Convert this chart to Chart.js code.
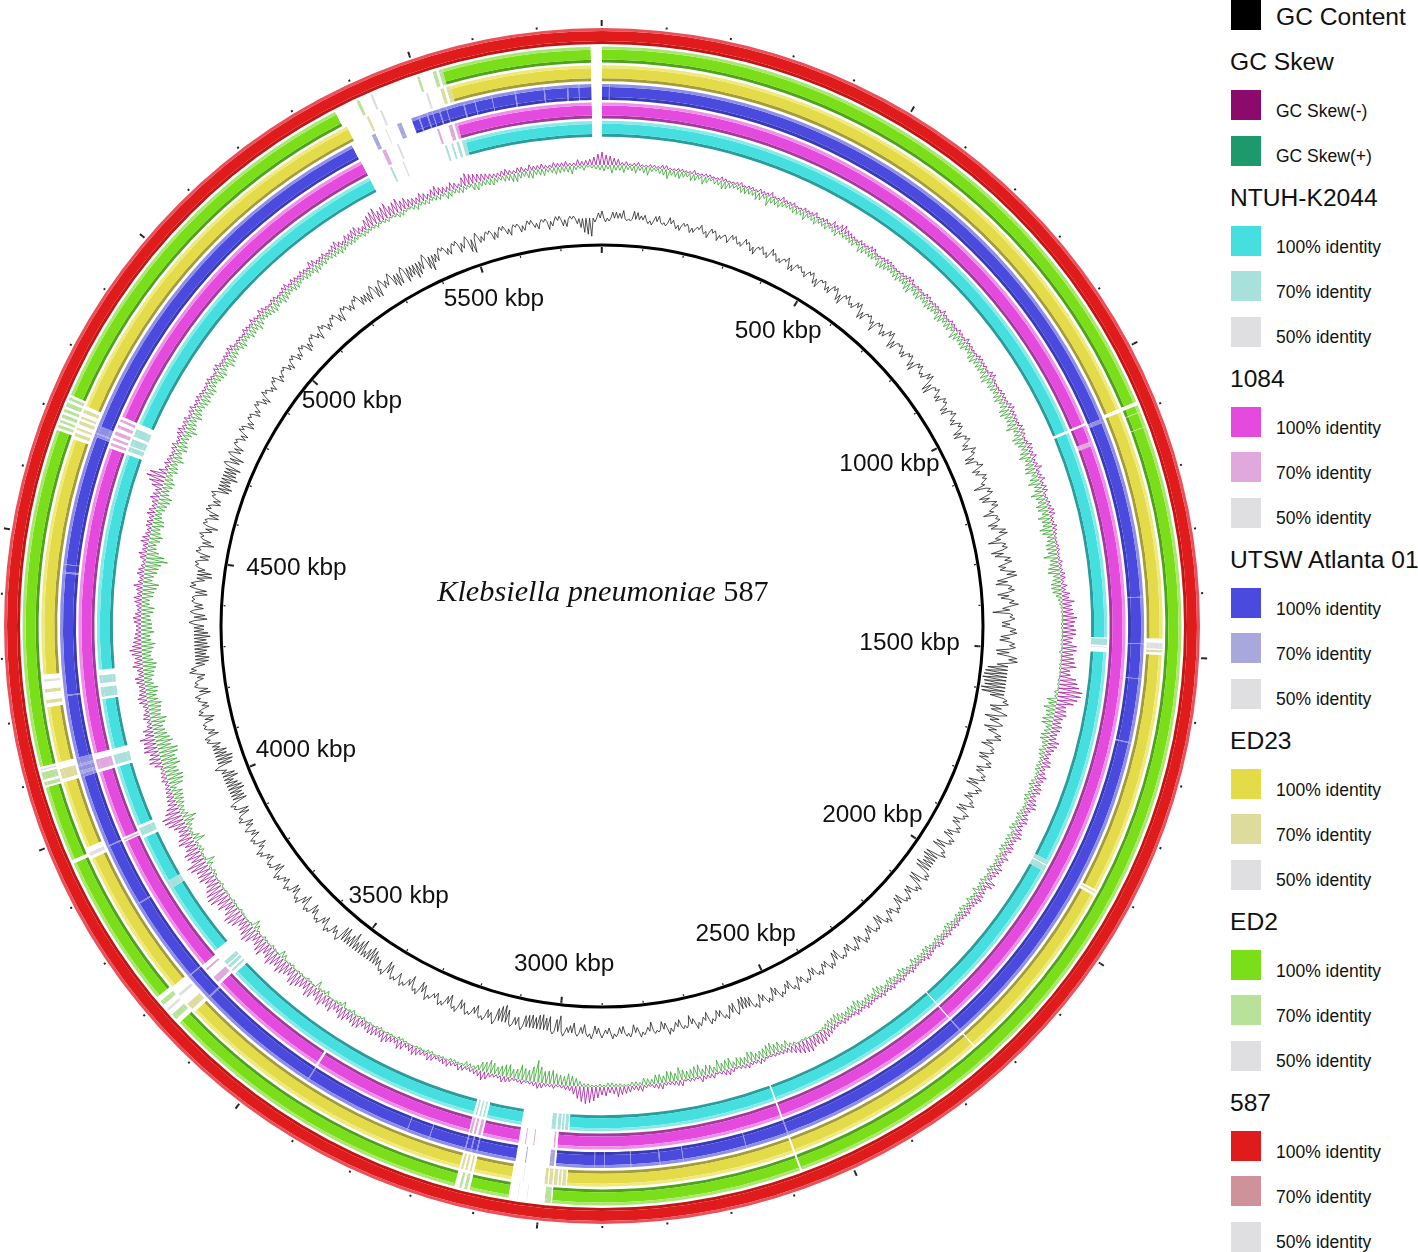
<!DOCTYPE html>
<html>
<head>
<meta charset="utf-8">
<title>Klebsiella pneumoniae 587</title>
<script src="https://cdn.jsdelivr.net/npm/chart.js@4"></script>
<style>
    html, body { margin: 0; padding: 0; background: #fff; overflow: hidden; }
    body { width: 1418px; height: 1252px; position: relative; font-family: "Liberation Sans", Arial, sans-serif; color: #111; }
    canvas { position: absolute; left: -18px; top: 6px; }
    #title { position: absolute; left: 303px; top: 574px; width: 600px; text-align: center; font: 30.3px "Liberation Serif", serif; white-space: nowrap; }
    .swatch { position: absolute; left: 1231px; width: 30px; height: 30px; }
    .heading { position: absolute; left: 1230px; font-size: 24.6px; line-height: 30px; white-space: nowrap; }
    .item { position: absolute; left: 1276px; font-size: 17.5px; line-height: 22px; white-space: nowrap; }
</style>
</head>
<body>
<canvas id="rings" width="1240" height="1240"></canvas>
<canvas id="traces" width="1240" height="1240"></canvas>
<div id="title"><i>Klebsiella pneumoniae</i> 587</div>
<div id="legend"></div>

<script>
const genomeLength = 5800;

// tick marks and labels in kbp
const majorTicks = [0, 500, 1000, 1500, 2000, 2500, 3000, 3500, 4000, 4500, 5000, 5500];
const minorTicks = [100, 200, 300, 400, 600, 700, 800, 900, 1100, 1200, 1300, 1400, 1600, 1700, 1800, 1900, 2100, 2200, 2300, 2400, 2600, 2700, 2800, 2900, 3100, 3200, 3300, 3400, 3600, 3700, 3800, 3900, 4100, 4200, 4300, 4400, 4600, 4700, 4800, 4900, 5100, 5200, 5300, 5400, 5600, 5700];
const labelTicks = [500, 1000, 1500, 2000, 2500, 3000, 3500, 4000, 4500, 5000, 5500];

// legend names
const genomeNames = ['NTUH-K2044', '1084', 'UTSW Atlanta 01', 'ED23', 'ED2', '587'];
const identityNames = ['100% identity', '70% identity', '50% identity'];

// regions that differ from full identity: start kbp, end kbp, identity (0 = no match)
const spans587 = [];
const spansEd2 = [[5782, 5800, 0], [5358, 5542, 0], [5396, 5401, 70], [5420, 5424, 50], [5500, 5504, 70], [5526, 5532, 70], [5536, 5542, 70], [1083, 1089, 0], [1100, 1101, 70], [1125, 1126, 70], [2575, 2578, 0], [2980, 3050, 0], [2982, 2992, 70], [3020, 3021, 50], [3035, 3036, 50], [3113, 3138, 0], [3117, 3122, 70], [3126, 3130, 70], [3654, 3708, 0], [3662, 3672, 70], [3680, 3684, 50], [3692, 3700, 70], [3960, 3966, 0], [4089, 4123, 0], [4092, 4098, 70], [4102, 4114, 70], [4117, 4120, 50], [4669, 4729, 0], [4673, 4678, 70], [4682, 4686, 70], [4690, 4696, 70], [4700, 4705, 70], [4709, 4716, 70], [4720, 4725, 70]];
const spansEd23 = [[5782, 5800, 0], [5364, 5547, 0], [5400, 5404, 70], [5424, 5428, 50], [5505, 5509, 50], [5530, 5536, 70], [5540, 5547, 70], [1083, 1089, 0], [1471, 1498, 0], [1478, 1488, 50], [1490, 1494, 70], [1903, 1913, 0], [1906, 1909, 70], [2230, 2232, 0], [2575, 2578, 0], [2958, 3050, 0], [2960, 2995, 70], [2966, 2968, 0], [2972, 2974, 0], [2980, 2982, 0], [2988, 2990, 0], [3030, 3031, 50], [3113, 3138, 0], [3117, 3120, 70], [3124, 3128, 70], [3131, 3135, 70], [3650, 3705, 0], [3656, 3668, 70], [3685, 3690, 50], [3955, 3975, 0], [3960, 3966, 50], [4089, 4123, 0], [4095, 4112, 70], [4216, 4270, 0], [4222, 4228, 70], [4240, 4246, 70], [4258, 4262, 50], [4664, 4722, 0], [4669, 4675, 70], [4680, 4684, 70], [4690, 4696, 70], [4700, 4704, 70], [4710, 4716, 70]];
const spansUtsw = [[5782, 5800, 0], [5357, 5468, 0], [5395, 5402, 70], [5420, 5422, 50], [5442, 5450, 70], [5480, 5482, 90], [5495, 5497, 90], [5505, 5506, 90], [5517, 5519, 90], [5530, 5531, 90], [5560, 5562, 90], [5580, 5581, 90], [5610, 5611, 90], [5650, 5652, 90], [5700, 5702, 90], [5740, 5742, 90], [5760, 5761, 90], [12, 13, 90], [1087, 1094, 90], [1400, 1401, 90], [1480, 1481, 90], [1540, 1541, 90], [1650, 1652, 90], [2230, 2232, 90], [2575, 2577, 90], [2650, 2651, 90], [2760, 2761, 90], [2800, 2802, 90], [2850, 2851, 90], [2895, 2896, 90], [2912, 2913, 90], [2979, 3048, 0], [2982, 2990, 70], [3030, 3032, 70], [3115, 3117, 90], [3125, 3127, 90], [3135, 3137, 90], [3200, 3201, 90], [3240, 3241, 90], [3430, 3432, 90], [3650, 3653, 90], [3700, 3702, 90], [3851, 3853, 90], [3962, 3964, 90], [4089, 4123, 90], [4095, 4100, 70], [4108, 4112, 70], [4230, 4232, 90], [4440, 4443, 90], [4455, 4456, 90], [4680, 4700, 90], [4685, 4687, 70]];
const spans1084 = [[5782, 5800, 0], [5358, 5541, 0], [5400, 5407, 70], [5428, 5432, 50], [5504, 5508, 70], [5525, 5532, 70], [5536, 5541, 70], [1083, 1087, 0], [1117, 1125, 70], [2230, 2232, 0], [2575, 2578, 0], [2979, 3048, 0], [2983, 2986, 70], [3020, 3022, 70], [3035, 3037, 70], [3113, 3138, 0], [3116, 3121, 70], [3125, 3129, 70], [3132, 3136, 70], [3430, 3434, 0], [3655, 3700, 0], [3660, 3672, 70], [3688, 3692, 70], [3958, 3966, 0], [3960, 3963, 70], [4089, 4123, 0], [4094, 4112, 70], [4670, 4730, 0], [4675, 4680, 70], [4685, 4690, 70], [4695, 4702, 70], [4708, 4714, 70], [4720, 4725, 70]];
const spansNtuh = [[5782, 5800, 0], [5358, 5547, 0], [5400, 5404, 70], [5425, 5428, 50], [5508, 5512, 70], [5520, 5524, 70], [5530, 5535, 70], [5540, 5547, 70], [1083, 1088, 0], [1471, 1498, 0], [1473, 1485, 70], [1488, 1490, 50], [1897, 1918, 70], [1905, 1907, 0], [2230, 2232, 0], [2575, 2578, 0], [2960, 3048, 0], [2962, 2993, 70], [2968, 2970, 0], [2974, 2976, 0], [2982, 2985, 0], [3113, 3138, 0], [3117, 3120, 70], [3124, 3127, 70], [3131, 3134, 70], [3650, 3705, 0], [3656, 3680, 70], [3660, 3664, 0], [3670, 3672, 0], [3845, 3860, 70], [3950, 3975, 0], [3955, 3970, 70], [4089, 4123, 0], [4094, 4112, 70], [4216, 4270, 0], [4220, 4238, 70], [4245, 4260, 70], [4670, 4730, 0], [4676, 4700, 70], [4685, 4687, 0], [4705, 4720, 70]];

// one value per half degree (A on the degree, B half way).
// gcContent: out (+) / in (-) of its base line
const gcContentA = [
    7, -3, 6, 8, -2, 7, 5, -4, 6, -3, 4, -5, 3, -4, 5, -6, 3, -3, -5, 4, -4, 3, -7, 4, -5, 3, -4, 5, -6, 3,
    -5, 4, -8, 3, -6, 4, -9, 5, -4, 6, -7, 3, -10, 4, -5, 6, -8, 3, -6, 4, -9, 5, -4, 7, -11, 4, -6, 3, -8, 5,
    -6, 4, -9, 5, -7, 3, -10, 6, -5, 4, -12, 5, -8, 6, -11, 4, -7, 8, -13, 5, -9, 7, -6, 10, -12, 6, -8, 9, -17, 5,
    -8, 7, -10, 6, -12, 9, -20, -23, -22, -24, -14, 6, -10, -15, 5, -8, 7, -11, 4, -9, 6, -7, 5, -12, 4, -8, 6, -10, 3, -7,
    5, -9, 4, -13, 6, -15, -11, -14, 5, -12, 4, -7, 3, -9, 5, -6, 4, -10, 3, -7, 5, -8, 4, -6, 3, -9, 5, -5, 3, -8,
    4, -7, 3, -6, 5, -9, 4, -8, 3, -10, -11, -9, 5, -6, 3, -8, 4, -5, 3, -7, 4, -6, 2, -9, 3, -5, 4, -7, 3, -6,
    4, -8, 3, -6, -10, -5, -16, 3, -12, -14, -13, -11, -8, 3, -17, -12, -6, 4, -9, 3, -7, 5, -10, 4, -6, 3, -8, 5, -11, 3,
    -7, 4, -12, 3, -9, -15, -6, -13, -17, -8, -14, -5, 3, -9, 4, -7, 3, -11, 5, -8, 3, -6, 4, -10, 3, -7, 4, -5, 3, -8,
    4, -9, 3, -11, 5, -13, -16, -12, -15, -6, -14, -17, -13, -9, 5, -7, 3, -10, 4, -6, 5, -9, 3, -8, 5, -13, -11, -15, -12, -14,
    -10, -13, 4, -8, 3, -11, 5, -15, -7, 4, -10, 3, -8, 5, -12, 3, -9, 4, -7, 5, -14, -10, -13, -15, -11, 4, -9, 3, -7, 4,
    -6, 3, -5, 4, -8, 3, -6, 5, -4, 3, -7, 4, -5, 3, -6, 4, -8, 3, -5, 4, -9, 3, -6, 5, -7, -9, -11, 4, -6, -10,
    -12, -14, -10, -13, 5, -15, -8, 3, -7, 4, -6, -12, 5, -5, 3, -6, 4, -7, 3, -5, 4, -6, 3, -5, 4, -7, 3, -9, -16, -4
];
const gcContentB = [
    -4, 6, 5, -2, 8, 4, -3, 5, -2, 6, -4, 3, -5, 2, -3, 4, -6, 2, 4, -3, 5, -5, 2, -3, 6, -4, 2, -6, 3, -2,
    3, -6, 2, -5, 4, -7, 3, -3, 5, -8, 2, -4, 3, -6, 5, -9, 2, -5, 3, -7, 4, -3, 6, -10, 2, -5, 4, -7, 3, -4,
    4, -8, 3, -5, 6, -9, 2, -7, 5, -3, 4, -10, 6, -4, 3, -9, 7, -5, 4, -12, 6, -7, 9, -10, 4, -11, 5, -7, 3, -8,
    6, -9, 5, -13, 8, -11, -22, -24, -21, -23, 4, -12, 7, -9, -13, 6, -7, 3, -10, 5, -8, 4, -11, 6, -6, 3, -9, 5, -8, 4,
    -7, 5, -11, 3, -14, -12, -16, 4, -13, 6, -8, 4, -10, 3, -5, 6, -9, 3, -8, 4, -6, 5, -7, 3, -10, 4, -6, 5, -7, 3,
    -5, 6, -8, 3, -7, 4, -6, 5, -9, -12, 4, -8, 3, -7, 5, -4, 6, -9, 3, -5, 6, -8, 3, -4, 5, -8, 3, -6, 5, -4,
    -6, 5, -9, 3, -7, 4, -12, -14, -15, -11, -12, 4, -7, -13, -15, 5, -8, 3, -6, 4, -9, 3, -7, 5, -4, 6, -10, 3, -6, 5,
    3, -10, 5, -7, -13, -11, -16, -9, -12, -15, 4, -8, 5, -6, 3, -10, 4, -7, 3, -9, 5, -4, 6, -8, 3, -5, 6, -9, 4, -6,
    -7, 5, -10, 3, -14, -12, -15, -9, -13, 5, -16, -12, -7, 4, -10, 3, -8, 5, -7, 3, -11, 4, -6, 7, -9, -14, -12, -13, -16, -10,
    5, -11, -9, 3, -12, 6, -8, -14, 3, -9, 5, -12, 3, -7, 4, -10, 5, -8, 3, -12, -11, -16, -12, 4, -14, -8, 3, -6, 5, -8,
    3, -7, 4, -6, 5, -4, 3, -7, 2, -5, 3, -6, 4, -8, 3, -4, 5, -6, 3, -7, 4, -5, 3, -8, -10, 4, -12, -7, 5, -13,
    4, -11, -15, -9, -12, -8, 4, -6, 3, -9, 5, -14, -6, 3, -7, 4, -5, 3, -6, 4, -4, 3, -8, 4, -6, 3, -5, -14, -18, 5
];
// GC skew: negative values draw outward, positive inward
const skewMinusA = [
    13, 9, 6, 4, 3, 2, 3, 2, 4, 2, 3, 2, 2, 3, 2, 4, 2, 3, 2, 3, 4, 3, 2, 5, 3, 2, 4, 3, 2, 4,
    6, 7, 5, 3, 4, 3, 5, 2, 4, 3, 2, 3, 5, 3, 2, 4, 3, 2, 3, 4, 2, 3, 5, 3, 2, 4, 3, 5, 3, 2,
    4, 3, 6, 4, 3, 5, 2, 6, 4, 3, 7, 4, 3, 5, 3, 4, 6, 3, 4, 2, 3, 2, 4, 3, 5, 6, 8, 12, 10, 14,
    11, 13, 9, 14, 12, 15, 10, 18, 24, 20, 10, 12, 8, 9, 7, 10, 6, 8, 5, 9, 6, 8, 7, 10, 5, 8, 6, 9, 5, 7,
    8, 5, 7, 4, 9, 6, 8, 5, 6, 4, 5, 3, 4, 6, 3, 5, 4, 3, 5, 3, 4, 5, 3, 4, 3, 5, 4, 3, 4, 3,
    5, 9, 12, 11, 13, 10, 6, 4, 3, 2, 5, 3, 4, 2, 6, 3, 5, 4, 2, 3, 6, 4, 3, 5, 2, 6, 4, 7, 10, 6,
    8, 14, 17, 12, 5, 3, 4, 3, 6, 3, 4, 2, 5, 3, 4, 9, 5, 3, 6, 4, 5, 3, 7, 5, 8, 4, 9, 6, 10, 7,
    9, 6, 11, 8, 12, 7, 10, 13, 8, 14, 10, 15, 9, 13, 11, 16, 10, 14, 9, 17, 12, 15, 18, 11, 14, 20, 16, 12, 15, 18,
    13, 16, 11, 14, 10, 17, 20, 12, 8, 6, 4, 5, 3, 12, 9, 13, 15, 10, 4, 6, 5, 9, 6, 8, 5, 10, 7, 12, 8, 6,
    5, 8, 4, 7, 5, 9, 4, 6, 3, 8, 5, 7, 4, 6, 8, 5, 9, 6, 15, 17, 4, 5, 3, 6, 4, 7, 5, 3, 6, 4,
    4, 3, 5, 2, 6, 3, 4, 5, 3, 2, 4, 6, 3, 5, 2, 4, 3, 6, 5, 3, 4, 7, 3, 5, 4, 8, 3, 6, 9, 5,
    12, 16, 13, 10, 14, 11, 7, 9, 5, 10, 6, 8, 4, 12, 9, 7, 5, 4, 6, 3, 5, 6, 4, 3, 5, 4, 3, 6, 5, 8
];
const skewMinusB = [
    10, 7, 3, 2, 4, 2, 3, 4, 2, 3, 2, 4, 2, 3, 2, 3, 2, 4, 3, 2, 3, 5, 2, 3, 4, 2, 3, 5, 3, 2,
    4, 8, 4, 2, 3, 5, 2, 3, 4, 2, 3, 5, 2, 3, 4, 2, 3, 5, 2, 3, 4, 2, 3, 2, 4, 3, 2, 6, 2, 3,
    3, 5, 4, 3, 5, 4, 3, 5, 6, 4, 3, 6, 5, 2, 4, 6, 3, 5, 3, 2, 3, 2, 3, 5, 3, 4, 7, 9, 11, 12,
    13, 10, 14, 11, 13, 9, 16, 20, 23, 17, 11, 9, 10, 7, 11, 8, 5, 9, 6, 7, 8, 5, 9, 6, 7, 5, 8, 6, 7, 4,
    5, 8, 6, 10, 5, 7, 6, 4, 5, 3, 4, 5, 3, 5, 4, 6, 3, 4, 3, 5, 3, 4, 5, 3, 4, 3, 5, 3, 5, 4,
    7, 11, 10, 14, 12, 8, 4, 3, 2, 4, 3, 5, 3, 4, 5, 2, 4, 6, 3, 2, 5, 3, 6, 4, 3, 5, 6, 8, 7, 9,
    11, 16, 15, 8, 4, 2, 3, 5, 4, 2, 3, 4, 6, 3, 7, 6, 4, 5, 3, 6, 4, 6, 4, 7, 6, 8, 5, 8, 7, 9,
    7, 10, 9, 11, 8, 12, 9, 11, 13, 9, 12, 14, 11, 15, 13, 12, 16, 11, 15, 14, 10, 17, 14, 16, 19, 18, 13, 16, 14, 20,
    15, 12, 16, 11, 13, 19, 15, 9, 7, 5, 6, 4, 8, 11, 14, 12, 9, 5, 7, 4, 8, 7, 6, 9, 6, 8, 10, 9, 7, 5,
    7, 6, 5, 8, 6, 5, 7, 4, 6, 5, 8, 5, 6, 5, 7, 6, 7, 11, 19, 9, 6, 4, 5, 3, 6, 4, 6, 5, 3, 5,
    3, 4, 3, 5, 3, 4, 6, 2, 3, 5, 3, 4, 6, 3, 4, 2, 5, 3, 4, 5, 3, 6, 4, 3, 6, 5, 7, 8, 6, 10,
    14, 11, 15, 12, 10, 8, 6, 7, 8, 7, 5, 6, 9, 10, 8, 6, 4, 5, 4, 5, 3, 4, 5, 3, 4, 5, 3, 4, 6, 11
];
const skewPlusA = [
    6, 8, 5, 4, 7, 6, 4, 5, 9, 6, 5, 7, 4, 6, 5, 8, 5, 4, 6, 5, 7, 10, 6, 5, 4, 6, 8, 5, 4, 6,
    5, 3, 4, 6, 8, 5, 6, 9, 7, 5, 8, 6, 10, 7, 5, 8, 6, 9, 5, 7, 10, 6, 8, 5, 9, 7, 6, 10, 8, 6,
    9, 7, 11, 8, 12, 7, 10, 6, 12, 8, 11, 9, 7, 13, 8, 10, 12, 9, 11, 8, 10, 14, 9, 12, 8, 10, 6, 3, 2, 1,
    2, 1, 2, 3, 1, 2, 1, 2, 4, 10, 12, 8, 11, 7, 9, 5, 6, 4, 5, 3, 6, 4, 5, 3, 6, 4, 7, 5, 4, 6,
    5, 3, 6, 4, 5, 7, 4, 3, 6, 5, 4, 6, 3, 5, 4, 6, 5, 7, 4, 8, 5, 7, 6, 9, 7, 5, 10, 8, 6, 9,
    7, 3, 2, 1, 2, 3, 8, 10, 12, 9, 7, 11, 8, 6, 10, 12, 9, 7, 11, 8, 13, 10, 7, 9, 6, 3, 4, 2, 3, 4,
    3, 2, 3, 8, 12, 10, 14, 12, 22, 11, 15, 9, 12, 8, 13, 9, 3, 5, 2, 3, 2, 1, 3, 2, 1, 2, 3, 2, 1, 2,
    2, 3, 1, 2, 6, 2, 1, 3, 8, 2, 1, 2, 3, 1, 7, 2, 1, 3, 2, 9, 1, 2, 1, 3, 2, 1, 2, 3, 2, 10,
    2, 4, 12, 3, 6, 14, 5, 8, 10, 6, 16, 14, 18, 15, 20, 17, 13, 11, 16, 12, 14, 10, 13, 8, 11, 14, 9, 12, 10, 13,
    11, 9, 13, 8, 12, 16, 10, 14, 22, 12, 8, 13, 9, 11, 7, 10, 13, 8, 11, 6, 9, 12, 7, 10, 8, 13, 9, 11, 7, 9,
    8, 10, 6, 9, 7, 11, 8, 5, 9, 6, 8, 10, 5, 7, 9, 6, 8, 5, 7, 4, 6, 8, 5, 4, 6, 7, 4, 5, 3, 4,
    3, 2, 4, 3, 5, 2, 6, 4, 3, 5, 7, 4, 6, 3, 8, 5, 7, 4, 6, 9, 5, 8, 6, 4, 7, 5, 8, 3, 2, 4
];
const skewPlusB = [
    4, 5, 7, 5, 4, 8, 3, 6, 5, 7, 4, 6, 8, 3, 5, 7, 4, 6, 5, 8, 4, 6, 7, 4, 6, 5, 4, 7, 5, 3,
    7, 4, 5, 3, 7, 6, 4, 8, 5, 7, 6, 9, 5, 8, 6, 7, 5, 8, 7, 4, 8, 7, 5, 8, 6, 7, 9, 6, 7, 8,
    6, 10, 8, 9, 6, 11, 8, 9, 7, 10, 6, 12, 8, 9, 11, 7, 9, 13, 7, 10, 9, 8, 11, 7, 10, 9, 4, 2, 1, 2,
    1, 2, 1, 1, 2, 1, 2, 1, 3, 8, 9, 11, 6, 9, 6, 7, 4, 5, 3, 5, 4, 6, 3, 4, 5, 6, 3, 5, 6, 3,
    4, 5, 3, 6, 4, 3, 6, 5, 4, 3, 6, 4, 5, 3, 6, 4, 5, 3, 6, 5, 7, 4, 8, 5, 6, 8, 7, 5, 8, 7,
    5, 2, 1, 2, 1, 4, 6, 9, 11, 8, 10, 7, 9, 11, 8, 6, 10, 12, 9, 10, 8, 11, 9, 5, 7, 4, 2, 3, 4, 2,
    2, 3, 5, 10, 9, 11, 13, 16, 15, 12, 10, 13, 10, 11, 10, 5, 4, 2, 3, 1, 2, 3, 1, 2, 1, 3, 1, 2, 3, 1,
    1, 2, 4, 1, 3, 1, 5, 2, 1, 3, 2, 1, 2, 5, 1, 3, 2, 1, 6, 2, 1, 3, 2, 1, 2, 3, 1, 4, 6, 2,
    5, 3, 8, 4, 10, 7, 6, 9, 11, 14, 17, 13, 16, 19, 14, 15, 12, 14, 11, 13, 11, 12, 9, 10, 13, 11, 10, 14, 9, 11,
    10, 12, 8, 11, 14, 9, 13, 16, 18, 9, 11, 10, 12, 8, 9, 12, 9, 10, 8, 10, 7, 9, 11, 8, 9, 10, 7, 9, 8, 10,
    9, 7, 8, 10, 6, 9, 7, 8, 6, 9, 7, 8, 6, 8, 7, 9, 6, 7, 5, 6, 5, 7, 6, 5, 5, 6, 5, 4, 5, 3,
    4, 3, 2, 5, 3, 4, 3, 5, 4, 3, 6, 5, 4, 7, 5, 6, 5, 6, 8, 6, 7, 5, 7, 5, 6, 6, 4, 5, 3, 5
];

// styles: outer strand, main strand, inner strand, 70%, 50%
const white = '#ffffff';
const ringStyles = [
    { spans: spans587, outer: 598, colors: ['#e9505a', '#e01b1b', '#c21616', '#d0929a', '#dfdfe2'] },
    { spans: spansEd2, outer: 579.4, colors: ['#a9e86e', '#7ade18', '#4fa31a', '#b8e29a', '#dfdfe2'] },
    { spans: spansEd23, outer: 560.8, colors: ['#efe97c', '#e3dc48', '#a59c38', '#dedc9c', '#dfdfe2'] },
    { spans: spansUtsw, outer: 542.1, colors: ['#8f8fe6', '#4a4ade', '#3a3ab2', '#a8a8dc', '#dfdfe2'] },
    { spans: spans1084, outer: 523.6, colors: ['#ee90e8', '#e34add', '#a23a9c', '#e0a8dc', '#dfdfe2'] },
    { spans: spansNtuh, outer: 505.2, colors: ['#88e9e9', '#45dfdf', '#2a9c9c', '#a8e0dc', '#dfdfe2'] }
];
const plotRadius = 620;
const gcBase = 408;
const skewBase = 461;
// where each kbp label sits: degrees clockwise from the top, distance from the centre
const labelAngle = [30.9, 60.6, 93.2, 125, 155, 186.4, 217, 247.3, 280.7, 311.9, 341.7];
const labelRadius = [343, 330, 308, 330, 340, 340, 338, 321, 311, 336, 344];

// turn painted spans into run lengths for a doughnut ring
function runLengths(spans) {
    const levels = new Array(genomeLength).fill(100);
    spans.forEach(function(s) {
        for (let k = s[0]; k < s[1]; k++) {
            levels[(Math.floor(k) + genomeLength) % genomeLength] = s[2];
        }
    });
    const runs = { data: [], levels: [] };
    levels.forEach(function(level) {
        const last = runs.levels.length - 1;
        if (last >= 0 && runs.levels[last] === level) {
            runs.data[last]++;
        } else {
            runs.levels.push(level);
            runs.data.push(1);
        }
    });
    return runs;
}

function tickSpans(ticks, width) {
    return ticks.map(function(t) {
        return [t - width / 2, t + width / 2, 1];
    });
}

// rings stack from the outside in; weights are pixels so gaps are plain spacers
const ringDatasets = [];
let currentRadius = plotRadius;

function addRing(outer, inner, data, colors) {
    if (currentRadius > outer) {
        ringDatasets.push({ data: [1], backgroundColor: ['rgba(0,0,0,0)'], weight: currentRadius - outer, borderWidth: 0 });
    }
    ringDatasets.push({ data: data, backgroundColor: colors, weight: outer - inner, borderWidth: 0 });
    currentRadius = inner;
}

function addTicks(outer, inner, spans) {
    const runs = runLengths(spans);
    const colors = runs.levels.map(function(level) {
        return level === 1 ? '#222222' : 'rgba(0,0,0,0)';
    });
    addRing(outer, inner, runs.data, colors);
}

addTicks(606, 602, tickSpans(majorTicks, 3));
addTicks(602, 600, tickSpans(majorTicks, 3).concat(tickSpans(minorTicks, 3)));

ringStyles.forEach(function(ring) {
    const runs = runLengths(ring.spans);
    const strands = [[0, 3], [3, 13], [13, 16]];
    strands.forEach(function(strand, s) {
        const colors = runs.levels.map(function(level) {
            if (level === 100) return ring.colors[s];
            if (level === 90) return ring.colors[0];
            if (level === 70) return ring.colors[3];
            if (level === 50) return ring.colors[4];
            return white;
        });
        addRing(ring.outer - strand[0], ring.outer - strand[1], runs.data, colors);
    });
});

// inner backbone circle and its ticks
addRing(382.5, 379.5, [1], ['#000000']);
addTicks(379, 377, tickSpans(majorTicks, 5).concat(tickSpans(minorTicks, 3)));
addTicks(377, 373, tickSpans(majorTicks, 5));
ringDatasets.push({ data: [1], backgroundColor: ['rgba(0,0,0,0)'], weight: currentRadius - 370, borderWidth: 0 });

new Chart(document.getElementById('rings'), {
    type: 'doughnut',
    data: { datasets: ringDatasets },
    options: {
        responsive: false,
        animation: false,
        events: [],
        cutout: 370,
        layout: { padding: 0 },
        plugins: { legend: { display: false }, tooltip: { enabled: false } }
    }
});

// traces: every value is a spike, with a return to the base line in between
const traceLabels = [];
const gcLine = [];
const minusLine = [];
const plusLine = [];
gcContentA.forEach(function(v, i) {
    traceLabels.push(i, i + 0.25, i + 0.5, i + 0.75);
    gcLine.push(gcBase + v, gcBase, gcBase + gcContentB[i], gcBase);
    minusLine.push(skewBase + skewMinusA[i], skewBase, skewBase + skewMinusB[i], skewBase);
    plusLine.push(skewBase, skewBase - skewPlusA[i], skewBase, skewBase - skewPlusB[i]);
});

const kbpLabels = {
    id: 'kbpLabels',
    afterDraw: function(chart) {
        const ctx = chart.ctx;
        const scale = chart.scales.r;
        ctx.save();
        ctx.font = '24.4px "Liberation Sans", Arial, sans-serif';
        ctx.fillStyle = '#111';
        ctx.textAlign = 'center';
        ctx.textBaseline = 'middle';
        labelTicks.forEach(function(kbp, i) {
            const index = labelAngle[i] / 360 * traceLabels.length;
            const p = scale.getPointPosition(index, labelRadius[i]);
            ctx.fillText(kbp + ' kbp', p.x, p.y);
        });
        ctx.restore();
    }
};

new Chart(document.getElementById('traces'), {
    type: 'radar',
    data: {
        labels: traceLabels,
        datasets: [
            { label: 'GC Skew(+)', data: plusLine, borderColor: '#34a52c', borderWidth: 0.8, pointRadius: 0, fill: false },
            { label: 'GC Skew(-)', data: minusLine, borderColor: '#a3149a', borderWidth: 0.8, pointRadius: 0, fill: false },
            { label: 'GC Content', data: gcLine, borderColor: '#222222', borderWidth: 0.8, pointRadius: 0, fill: false }
        ]
    },
    options: {
        responsive: false,
        animation: false,
        events: [],
        layout: { padding: 0 },
        scales: {
            r: {
                min: 0,
                max: plotRadius,
                ticks: { display: false },
                grid: { display: false },
                angleLines: { display: false },
                pointLabels: { display: false }
            }
        },
        plugins: { legend: { display: false }, tooltip: { enabled: false } }
    },
    plugins: [kbpLabels]
});

// legend column
const legend = document.getElementById('legend');

function addLegend(className, text, top, color) {
    const el = document.createElement('div');
    el.className = className;
    el.style.top = top + 'px';
    if (text) el.textContent = text;
    if (color) el.style.background = color;
    legend.appendChild(el);
}

addLegend('swatch', '', 0, '#000000');
addLegend('heading', 'GC Content', 2, null);
legend.lastChild.style.left = '1276px';
addLegend('heading', 'GC Skew', 47, null);
addLegend('swatch', '', 90, '#8c0a6c');
addLegend('item', 'GC Skew(-)', 100, null);
addLegend('swatch', '', 135.5, '#1c9a6c');
addLegend('item', 'GC Skew(+)', 145, null);

const legendOrder = ringStyles.slice().reverse();
genomeNames.forEach(function(name, g) {
    const start = 181 * g;
    addLegend('heading', name, 183 + start, null);
    identityNames.forEach(function(label, k) {
        const top = 226 + start + 45.4 * k;
        addLegend('swatch', '', top, legendOrder[g].colors[k === 0 ? 1 : k + 2]);
        addLegend('item', label, top + 9.5, null);
    });
});
</script>
</body>
</html>
